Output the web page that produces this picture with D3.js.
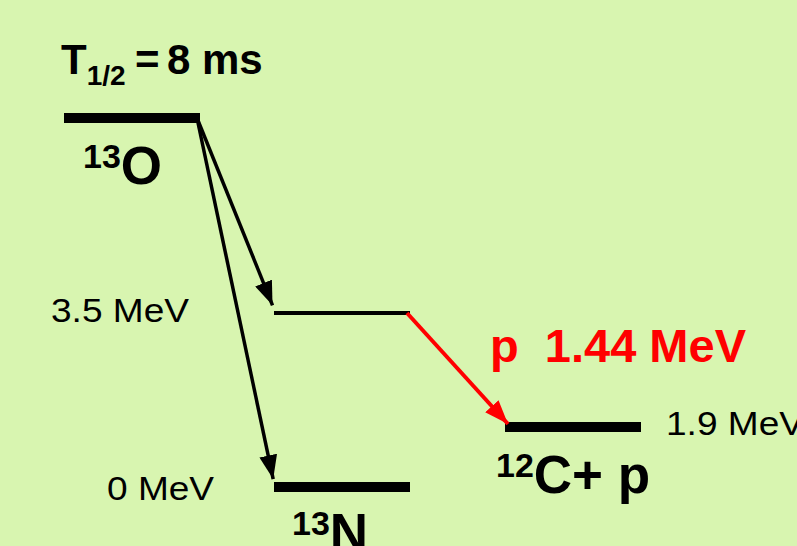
<!DOCTYPE html>
<html>
<head>
<meta charset="utf-8">
<script src="https://cdn.jsdelivr.net/npm/d3@7/dist/d3.min.js"></script>
<style>
  html, body { margin: 0; padding: 0; background: #d8f5b0; }
  svg { display: block; font-family: "Liberation Sans", Arial, Helvetica, sans-serif; }
</style>
</head>
<body>
<svg id="chart" width="797" height="546"></svg>
<script>
// Level scheme of 13O beta-delayed proton decay
const levelNames    = ["13O", "13N*", "12C+p", "13N"];
const levelColumns  = ["13O", "13N", "12C+p", "13N"];
const levelEnergies = [17.77, 3.5, 1.9, 0];          // MeV above 13N ground state
const levelHeavy    = [true, false, true, true];
const energyLabels  = ["", "3.5 MeV", "1.9 MeV", "0 MeV"];

// Decays: [from level, to level, kind]
const transFrom = ["13O", "13O", "13N*"];
const transTo   = ["13N*", "13N", "12C+p"];
const transKind = ["beta", "beta", "proton"];

const halfLife = "8 ms";
const protonEnergy = 1.44;

const svg = d3.select("#chart");
const W = 797, H = 546;

svg.append("rect").attr("width", W).attr("height", H).attr("fill", "#d8f5b0");

// Schematic (not to scale) energy axis
const y = d3.scaleLinear()
  .domain([0, 1.9, 3.5, 17.77])
  .range([487, 427, 313, 118]);

const x = d3.scaleOrdinal()
  .domain(["13O", "13N", "12C+p"])
  .range([64, 274, 505]);
const levelW = 136;

const levels = levelNames.map((n, i) => ({
  name: n, col: levelColumns[i], e: levelEnergies[i],
  heavy: levelHeavy[i], label: energyLabels[i]
}));
const byName = Object.fromEntries(levels.map(d => [d.name, d]));

// Arrowhead markers
const defs = svg.append("defs");
[["arrBlack", "#000"], ["arrRed", "#ff0000"]].forEach(([id, c]) => {
  defs.append("marker")
    .attr("id", id)
    .attr("markerUnits", "userSpaceOnUse")
    .attr("viewBox", "0 0 24 18")
    .attr("refX", 24).attr("refY", 9)
    .attr("markerWidth", 24).attr("markerHeight", 18)
    .attr("orient", "auto")
    .append("path").attr("d", "M0,0 L24,9 L0,18 Z").attr("fill", c);
});

// Level bars
svg.append("g").selectAll("line").data(levels).join("line")
  .attr("x1", d => x(d.col))
  .attr("x2", d => x(d.col) + levelW)
  .attr("y1", d => y(d.e))
  .attr("y2", d => y(d.e))
  .attr("stroke", "#000")
  .attr("stroke-width", d => d.heavy ? 10 : 4);

// Transitions
const trans = transFrom.map((f, i) => ({ from: byName[f], to: byName[transTo[i]], kind: transKind[i] }));
svg.append("g").selectAll("line").data(trans).join("line")
  .each(function(d) {
    const proton = d.kind === "proton";
    const x1 = x(d.from.col) + levelW - 3, y1 = y(d.from.e);
    let x2 = x(d.to.col), y2 = y(d.to.e);
    const dx = x2 - x1, dy = y2 - y1, L = Math.hypot(dx, dy);
    if (proton) { x2 += 3; y2 -= 3; }
    else { x2 -= dx / L * 4; y2 -= dy / L * 4 + 4; }
    d3.select(this)
      .attr("x1", x1).attr("y1", y1).attr("x2", x2).attr("y2", y2)
      .attr("stroke", proton ? "#ff0000" : "#000")
      .attr("stroke-width", proton ? 4 : 3.5)
      .attr("marker-end", proton ? "url(#arrRed)" : "url(#arrBlack)");
  });

// Energy labels (slightly widened face)
const eLab = svg.append("g").attr("font-size", 34).attr("fill", "#000");
function eText(xp, yp, s) {
  eLab.append("text")
    .attr("transform", `translate(${xp},${yp}) scale(1.09,1)`)
    .text(s);
}
eText(51, y(3.5) + 9, energyLabels[1]);
eText(107, y(0) + 13, energyLabels[3]);
eText(x("12C+p") + levelW + 25, y(1.9) + 8, energyLabels[2]);

// Half-life
const t = svg.append("text").attr("x", 61).attr("y", 74)
  .attr("font-size", 42).attr("font-weight", "bold");
t.append("tspan").text("T");
t.append("tspan").attr("font-size", 28).attr("dy", 11).text("1/2");
t.append("tspan").attr("x", 135).attr("dy", -11).text("=");
t.append("tspan").attr("x", 167).text(halfLife);

// Nuclide labels
function nuclide(xs, ys, mass, sym, size, supSize) {
  const g = svg.append("text").attr("x", xs).attr("y", ys)
    .attr("font-weight", "bold").attr("font-size", supSize);
  g.append("tspan").text(mass);
  g.append("tspan").attr("font-size", size).attr("dy", 16).text(sym);
}
nuclide(83, y(17.77) + 50, "13", "O", 53, 34);
nuclide(292, y(0) + 48, "13", "N", 53, 34);
nuclide(496, y(1.9) + 50, "12", "C+ p", 53, 34);

// Proton energy
svg.append("text").attr("x", 490).attr("y", 362)
  .attr("font-size", 47).attr("font-weight", "bold").attr("fill", "#ff0000")
  .attr("xml:space", "preserve")
  .style("white-space", "pre")
  .text("p  " + protonEnergy.toFixed(2) + " MeV");
</script>
</body>
</html>
